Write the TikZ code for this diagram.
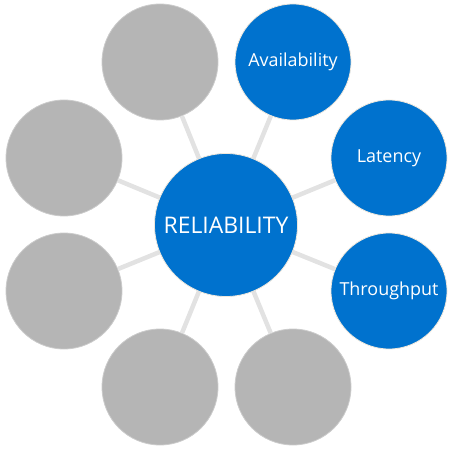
\documentclass[tikz,border=0pt]{standalone}
\usepackage{fontspec}
\setmainfont{Open Sans}
\definecolor{relblue}{RGB}{0,114,206}
\definecolor{relgray}{RGB}{181,181,181}
\definecolor{spoke}{RGB}{226,226,226}
\definecolor{rim}{RGB}{240,232,220}
\tikzset{
  hub/.style={circle, fill=relblue, draw=rim, line width=0.8bp, minimum size=143bp, inner sep=0pt, text=white, font=\fontsize{23}{28}\selectfont},
  bluesat/.style={circle, fill=relblue, draw=rim, line width=0.8bp, minimum size=116bp, inner sep=0pt, text=white, font=\fontsize{18}{22}\selectfont},
  graysat/.style={circle, fill=relgray, draw=relgray!70!white, line width=0.8bp, minimum size=116bp, inner sep=0pt},
  spokeline/.style={draw=spoke, line width=4.5bp}
}
\begin{document}
\begin{tikzpicture}[x=1bp,y=-1bp]
\useasboundingbox (0,0) rectangle (450,450);
\coordinate (c) at (226,225);
\node[bluesat] (avail) at (293,62) {Availability};
\node[bluesat] (lat) at (389,158) {Latency};
\node[bluesat] (thr) at (389,291) {Throughput};
\node[graysat] (br) at (293,387) {};
\node[graysat] (bl) at (160,387) {};
\node[graysat] (ll) at (64,291) {};
\node[graysat] (lu) at (64,158) {};
\node[graysat] (tl) at (160,62) {};
\foreach \n in {avail,lat,thr,br,bl,ll,lu,tl}{
  \draw[spokeline] (c) -- (\n);
}
\node[hub] (hub) at (c) {RELIABILITY};
\end{tikzpicture}
\end{document}
